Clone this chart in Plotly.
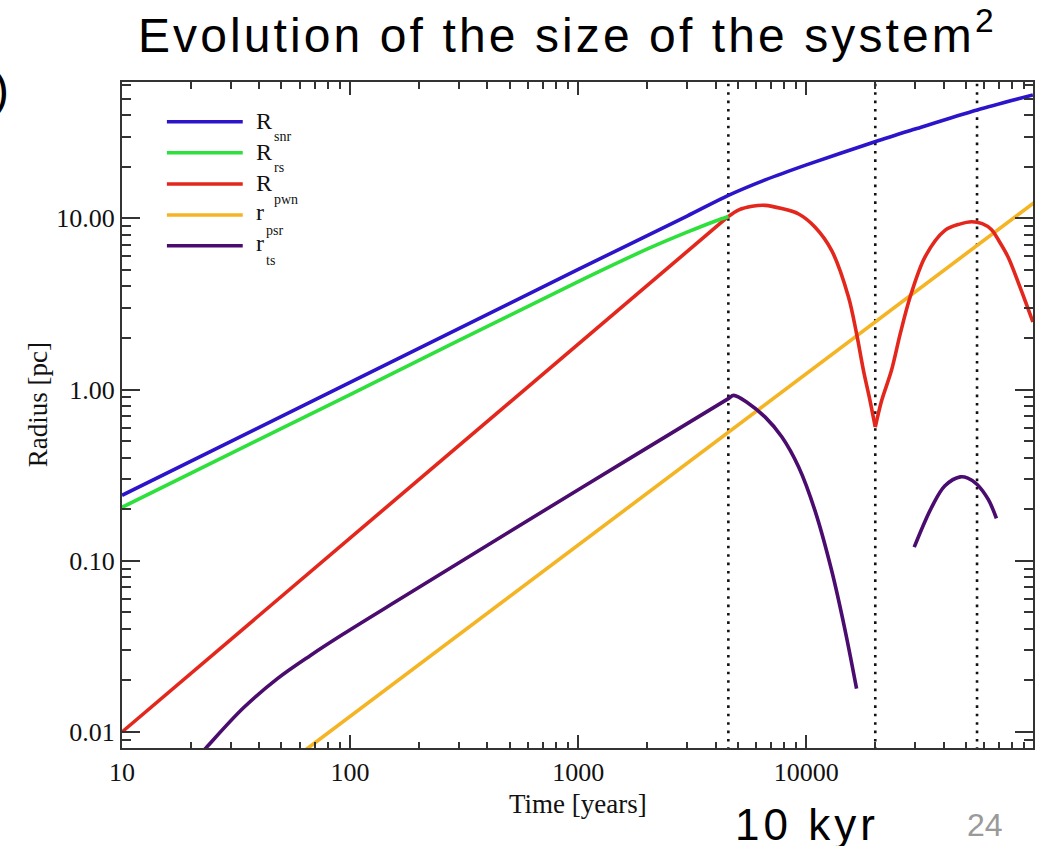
import plotly.graph_objects as go

# ---- data: radius [pc] versus time [years] ----
t_snr = [10, 100, 1000, 3000, 4550, 6600, 10000, 20000, 30000, 56000, 98400]
r_snr = [0.241, 1.10, 5.03, 10.3, 13.6, 16.75, 20.5, 28.0, 33.2, 42.9, 52.5]

t_rs = [10, 100, 1000, 2000, 3000, 4000, 4550]
r_rs = [0.205, 0.935, 4.27, 6.6, 8.3, 9.65, 10.25]

t_pwn = [10, 100, 1000, 4550, 5060, 5780, 6600, 7800, 9250, 10900, 12900, 15300,
         16600, 17800, 19000, 20050, 21400, 23600, 25800, 28500, 33100, 40500,
         47000, 53000, 59000, 64700, 70000, 76600, 87500, 98400]
r_pwn = [0.01, 0.135, 1.83, 10.25, 11.2, 11.75, 11.9, 11.4, 10.6, 8.9, 6.5, 3.47,
         2.12, 1.29, 0.865, 0.604, 0.865, 1.29, 2.12, 3.47, 5.94, 8.5,
         9.25, 9.55, 9.3, 8.6, 7.35, 5.94, 3.79, 2.48]
pwn_breaks = [4550, 20050]

t_psr = [60, 1000, 10000, 100000]
r_psr = [0.0074, 0.124, 1.24, 12.4]

t_ts = [21, 23.4, 34, 48, 67, 93, 173, 1000, 4550, 4800, 5580, 6600, 7800, 9250,
        10900, 12900, 14800, 16600,
        None,
        29700, 35400, 40500, 47300, 51000, 55900, 62700, 68100]
r_ts = [0.0069, 0.0081, 0.0138, 0.0205, 0.028, 0.0372, 0.062, 0.26, 0.885, 0.925,
        0.83, 0.69, 0.53, 0.353, 0.197, 0.088, 0.039, 0.0179,
        None,
        0.120, 0.205, 0.274, 0.309, 0.304, 0.280, 0.228, 0.177]

phase_times = [4550, 20050, 56000]

x_tickvals = [10, 100, 1000, 10000]
x_ticktext = ["10", "100", "1000", "10000"]
y_tickvals = [0.01, 0.1, 1, 10]
y_ticktext = ["0.01", "0.10", "1.00", "10.00"]

x_minor = [m * 10 ** d for d in range(1, 5) for m in range(2, 10)]
y_minor = [0.009] + [m * 10.0 ** d for d in range(-2, 2) for m in range(2, 10) if m * 10.0 ** d < 62]

names = ["R", "R", "R", "r", "r"]
subs = ["snr", "rs", "pwn", "psr", "ts"]
colors = ["#2B14C9", "#2EE03C", "#E3271C", "#F4B424", "#4A0C6E"]

LW = 3.6
SERIF = "Liberation Serif"

fig = go.Figure()


def split_at(ts, rs, breaks):
    """Cut a curve into pieces that share their end points at the given kinks."""
    pieces, cur_t, cur_r = [], [], []
    for t, r in zip(ts, rs):
        cur_t.append(t)
        cur_r.append(r)
        if t in breaks:
            pieces.append((cur_t, cur_r))
            cur_t, cur_r = [t], [r]
    pieces.append((cur_t, cur_r))
    return pieces


# vertical dotted markers of the evolutionary phases
for tp in phase_times:
    fig.add_trace(go.Scatter(x=[tp, tp], y=[0.005, 100], mode="lines",
                             line=dict(color="#111111", width=2.6, dash="2.6px,5.8px"),
                             hoverinfo="skip", showlegend=False))

fig.add_trace(go.Scatter(x=t_psr, y=r_psr, mode="lines",
                         line=dict(color=colors[3], width=LW), showlegend=False))
fig.add_trace(go.Scatter(x=t_ts, y=r_ts, mode="lines", connectgaps=False,
                         line=dict(color=colors[4], width=LW, shape="spline", smoothing=1.0),
                         showlegend=False))
for i, (pt, pr) in enumerate(split_at(t_pwn, r_pwn, pwn_breaks)):
    fig.add_trace(go.Scatter(x=pt, y=pr, mode="lines",
                             line=dict(color=colors[2], width=LW,
                                       shape="linear" if i == 0 else "spline", smoothing=0.9),
                             showlegend=False))
fig.add_trace(go.Scatter(x=t_rs, y=r_rs, mode="lines",
                         line=dict(color=colors[1], width=LW, shape="spline", smoothing=0.8),
                         showlegend=False))
fig.add_trace(go.Scatter(x=t_snr, y=r_snr, mode="lines",
                         line=dict(color=colors[0], width=LW, shape="spline", smoothing=0.8),
                         showlegend=False))

# ---- legend drawn by hand: long line samples and subscripted labels ----
PL, PR, PT, PB = 122, 1035, 82, 748
W, H = PR - PL, PB - PT


def px(x):
    return (x - PL) / W


def py(y):
    return (PB - y) / H


legend_y = [121.7, 152.7, 184.0, 215.0, 245.7]
shapes = []
annotations = []
for i, ly in enumerate(legend_y):
    shapes.append(dict(type="line", xref="paper", yref="paper",
                       x0=px(167), x1=px(243), y0=py(ly), y1=py(ly),
                       line=dict(color=colors[i], width=LW)))
    big = names[i] == "R"
    annotations.append(dict(xref="paper", yref="paper", x=px(254), y=py(ly - (1 if big else 3)),
                            xanchor="left", yanchor="middle", showarrow=False,
                            text=names[i], font=dict(family=SERIF, size=24, color="#111")))
    annotations.append(dict(xref="paper", yref="paper", x=px(272 if big else 264), y=py(ly + 15),
                            xanchor="left", yanchor="middle", showarrow=False,
                            text=subs[i], font=dict(family=SERIF, size=14, color="#111")))

# axis titles
annotations.append(dict(xref="paper", yref="paper", x=px(38), y=py(405), textangle=-90,
                        xanchor="center", yanchor="middle", showarrow=False,
                        text="Radius [pc]", font=dict(family=SERIF, size=27, color="#111")))
annotations.append(dict(xref="paper", yref="paper", x=0.5, y=py(804),
                        xanchor="center", yanchor="middle", showarrow=False,
                        text="Time [years]", font=dict(family=SERIF, size=27, color="#111")))

# slide texts around the plot
annotations.append(dict(xref="paper", yref="paper", x=px(568), y=py(32),
                        xanchor="center", yanchor="middle", showarrow=False,
                        text="<span style='letter-spacing:3.1px'>Evolution of the size of the "
                             "system<sup>2</sup></span>",
                        font=dict(family="Liberation Sans", size=48, color="#000")))
annotations.append(dict(xref="paper", yref="paper", x=px(11), y=py(90),
                        xanchor="right", yanchor="middle", showarrow=False,
                        text=")", font=dict(family="Liberation Sans", size=48, color="#000")))
annotations.append(dict(xref="paper", yref="paper", x=px(809), y=py(824),
                        xanchor="center", yanchor="middle", showarrow=False,
                        text="<span style='letter-spacing:4px'>10 kyr</span>",
                        font=dict(family="Liberation Sans", size=44, color="#000")))
annotations.append(dict(xref="paper", yref="paper", x=px(987), y=py(825),
                        xanchor="center", yanchor="middle", showarrow=False,
                        text="24", font=dict(family="Liberation Sans", size=32, color="#9a9a9a")))

axis_common = dict(type="log", showgrid=False, zeroline=False, showline=True,
                   linecolor="#333", linewidth=2, mirror="allticks", ticks="inside",
                   tickcolor="#333", tickwidth=2, tickmode="array",
                   tickfont=dict(family=SERIF, size=26, color="#111"))

fig.update_xaxes(**axis_common, range=[1, 4.9935], tickvals=x_tickvals, ticktext=x_ticktext,
                 ticklen=13,
                 minor=dict(tickmode="array", tickvals=x_minor, ticks="inside", ticklen=6.5,
                            tickcolor="#333", tickwidth=2, showgrid=False))
fig.update_yaxes(**axis_common, range=[-2.0935, 1.796], tickvals=y_tickvals, ticktext=y_ticktext,
                 ticklen=18,
                 minor=dict(tickmode="array", tickvals=y_minor, ticks="inside", ticklen=9,
                            tickcolor="#333", tickwidth=2, showgrid=False))

fig.update_layout(width=1046, height=846, margin=dict(l=PL, r=1046 - PR, t=PT, b=846 - PB),
                  paper_bgcolor="white", plot_bgcolor="white", showlegend=False,
                  shapes=shapes, annotations=annotations)

fig.write_html("out.html")
